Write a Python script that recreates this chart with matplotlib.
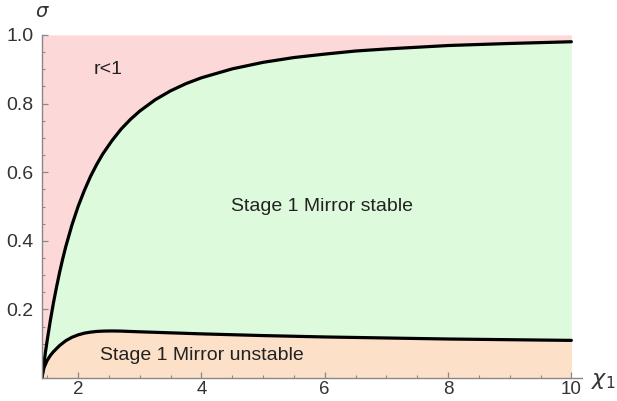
import matplotlib.pyplot as plt
from matplotlib.ticker import MultipleLocator

plt.rcParams['font.family'] = ['Liberation Sans', 'DejaVu Sans']
plt.rcParams['mathtext.fontset'] = 'dejavusans'

# Boundary r = 1 (upper curve)
x_upper = [1.414, 1.43, 1.45, 1.475, 1.5, 1.55, 1.6, 1.65, 1.7, 1.75, 1.8, 1.9, 2.0,
           2.1, 2.2, 2.3, 2.4, 2.55, 2.7, 2.85, 3.0, 3.25, 3.5, 3.75, 4.0, 4.5, 5.0,
           5.5, 6.0, 6.5, 7.0, 8.0, 9.0, 10.0]
sigma_upper = [0.0, 0.022, 0.049, 0.081, 0.111, 0.168, 0.219, 0.265, 0.308, 0.347,
               0.383, 0.446, 0.500, 0.546, 0.587, 0.622, 0.653, 0.692, 0.726, 0.754,
               0.778, 0.811, 0.837, 0.858, 0.875, 0.901, 0.920, 0.934, 0.944, 0.953,
               0.959, 0.969, 0.975, 0.980]

# Stability boundary of stage 1 mirror (lower curve)
x_lower = [1.414, 1.43, 1.45, 1.5, 1.55, 1.6, 1.7, 1.8, 1.9, 2.0, 2.1, 2.2, 2.3, 2.4,
           2.55, 2.7, 3.0, 3.5, 4.0, 5.0, 6.0, 7.0, 8.0, 9.0, 10.0]
sigma_lower = [0.0, 0.018, 0.032, 0.052, 0.066, 0.077, 0.095, 0.109, 0.119, 0.126,
               0.131, 0.134, 0.136, 0.137, 0.1375, 0.137, 0.135, 0.132, 0.129, 0.124,
               0.120, 0.117, 0.114, 0.112, 0.110]

fig = plt.figure(figsize=(6.17, 4.01), dpi=100)
ax = fig.add_axes([0.068, 0.057, 0.875, 0.856])

# shaded regions
ax.fill_between(x_upper, sigma_upper, 1.0, color='#fdd8d8', lw=0)
ax.fill_between(x_upper, 0, sigma_upper, color='#ddfbdc', lw=0)
ax.fill_between(x_lower, 0, sigma_lower, color='#fde0c8', lw=0)

ax.plot(x_upper, sigma_upper, color='black', lw=2.3, solid_capstyle='round',
        solid_joinstyle='round')
ax.plot(x_lower, sigma_lower, color='black', lw=2.3, solid_capstyle='round',
        solid_joinstyle='round')

ax.text(2.49, 0.898, 'r<1', fontsize=14, ha='center', va='center', color='#222222')
ax.text(5.96, 0.499, 'Stage 1 Mirror stable', fontsize=14, ha='center', va='center',
        color='#222222')
ax.text(4.01, 0.067, 'Stage 1 Mirror unstable', fontsize=14, ha='center', va='center',
        color='#222222')

ax.set_xlim(1.414, 10.17)
ax.set_ylim(0, 1.0)

for side in ['top', 'right']:
    ax.spines[side].set_visible(False)
for side in ['left', 'bottom']:
    ax.spines[side].set_color('#888888')
    ax.spines[side].set_linewidth(1.0)

ax.xaxis.set_major_locator(MultipleLocator(2))
ax.xaxis.set_minor_locator(MultipleLocator(0.5))
ax.yaxis.set_major_locator(MultipleLocator(0.2))
ax.yaxis.set_minor_locator(MultipleLocator(0.05))
ax.set_yticks([0.2, 0.4, 0.6, 0.8, 1.0])
ax.set_yticklabels(['0.2', '0.4', '0.6', '0.8', '1.0'])
ax.tick_params(which='major', direction='in', length=4, width=0.9, color='#888888',
               labelcolor='#333333')
ax.tick_params(which='minor', direction='in', length=2.5, width=0.8, color='#888888')
ax.tick_params(axis='y', which='major', labelsize=14, pad=6)
ax.tick_params(axis='x', which='major', labelsize=13.5, pad=2)

fig.text(0.068, 0.97, r'$\sigma$', fontsize=14, ha='center', va='center', color='#333333')
fig.text(0.977, 0.052, r'$\chi_1$', fontsize=16, ha='center', va='center', color='#333333')

fig.savefig('out.png', dpi=100)
